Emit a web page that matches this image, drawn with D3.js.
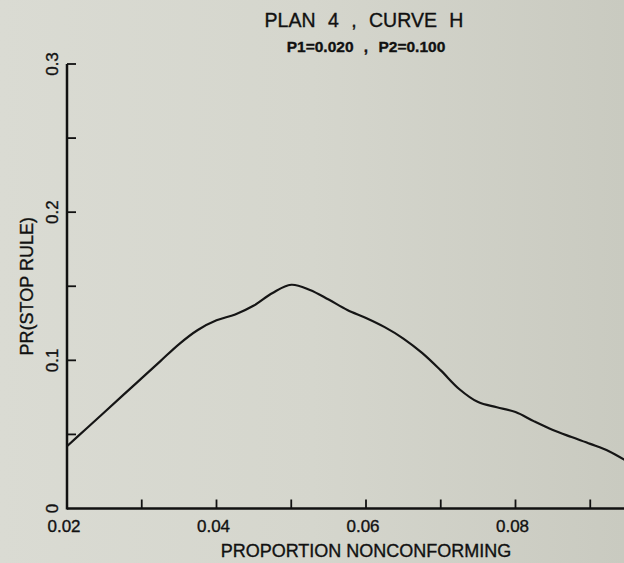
<!DOCTYPE html>
<html>
<head>
<meta charset="utf-8">
<script src="https://cdn.jsdelivr.net/npm/d3@7"></script>
<style>
  html, body { margin: 0; padding: 0; overflow: hidden; }
  body { width: 624px; height: 563px; }
  text { font-family: "Liberation Sans", Arial, sans-serif; fill: #111; stroke: #111; stroke-width: 0.35px; }
</style>
</head>
<body>
<div id="chart"></div>
<script>
// OC-type curve: PR(STOP RULE) vs proportion nonconforming

var titleText = "PLAN 4 , CURVE H";
var subtitleText = "P1=0.020 , P2=0.100";
var xLabel = "PROPORTION NONCONFORMING";
var yLabel = "PR(STOP RULE)";

var xTicks = [0.02, 0.03, 0.04, 0.05, 0.06, 0.07, 0.08, 0.09];
var xTickLabels = [0.02, 0.04, 0.06, 0.08];
var yTicks = [0, 0.05, 0.1, 0.15, 0.2, 0.25, 0.3];
var yTickLabels = [0, 0.1, 0.2, 0.3];

var pValues = [0.02, 0.0225, 0.025, 0.0275, 0.03, 0.0325, 0.035, 0.0375, 0.04, 0.0425,
               0.045, 0.0475, 0.05, 0.0525, 0.055, 0.0575, 0.06, 0.0625, 0.065, 0.0675,
               0.07, 0.0725, 0.075, 0.0775, 0.08, 0.0825, 0.085, 0.0875, 0.09, 0.0925, 0.095];
var prStop = [0.042, 0.0535, 0.065, 0.0765, 0.088, 0.0995, 0.111, 0.1205, 0.127, 0.131,
              0.137, 0.1455, 0.151, 0.1475, 0.141, 0.134, 0.1286, 0.1224, 0.1147, 0.105,
              0.0932, 0.0805, 0.0718, 0.0683, 0.0651, 0.0588, 0.053, 0.0482, 0.0436, 0.0387, 0.0316];

var svgWidth = 624;
var svgHeight = 563;

var svg = d3.select("#chart")
    .append("svg")
        .attr("width", svgWidth)
        .attr("height", svgHeight);

// scanned-paper background
var grad = svg.append("defs").append("linearGradient")
    .attr("id", "paper")
    .attr("x1", "0").attr("y1", "0")
    .attr("x2", "1").attr("y2", "0");
grad.append("stop").attr("offset", "0").attr("stop-color", "#dadbd3");
grad.append("stop").attr("offset", "0.5").attr("stop-color", "#d5d6cd");
grad.append("stop").attr("offset", "1").attr("stop-color", "#c9cac0");

svg.append("rect")
    .attr("width", svgWidth)
    .attr("height", svgHeight)
    .attr("fill", "url(#paper)");

var x = d3.scaleLinear()
    .domain([0.02, 0.1])
    .range([67, 665]);

var y = d3.scaleLinear()
    .domain([0, 0.3])
    .range([508.5, 64]);

// axes lines
svg.append("line")
    .attr("x1", x(0.02)).attr("x2", svgWidth)
    .attr("y1", y(0)).attr("y2", y(0))
    .attr("stroke", "#111").attr("stroke-width", 2.5);
svg.append("line")
    .attr("x1", x(0.02)).attr("x2", x(0.02))
    .attr("y1", y(0) + 1).attr("y2", y(0.3))
    .attr("stroke", "#111").attr("stroke-width", 2.5);

// ticks point inward
svg.selectAll("xtick")
    .data(xTicks.slice(1))
    .enter().append("line")
        .attr("x1", function(d) { return x(d); })
        .attr("x2", function(d) { return x(d); })
        .attr("y1", y(0))
        .attr("y2", y(0) - 9)
        .attr("stroke", "#111")
        .attr("stroke-width", 1.8);

svg.selectAll("ytick")
    .data(yTicks.slice(1))
    .enter().append("line")
        .attr("x1", x(0.02))
        .attr("x2", x(0.02) + 9)
        .attr("y1", function(d) { return y(d); })
        .attr("y2", function(d) { return y(d); })
        .attr("stroke", "#111")
        .attr("stroke-width", 1.8);

// tick labels
svg.selectAll("xlab")
    .data(xTickLabels)
    .enter().append("text")
        .attr("x", function(d) { return x(d) - 3; })
        .attr("y", 532)
        .attr("text-anchor", "middle")
        .style("font-size", "17px")
        .text(function(d) { return d3.format(".2f")(d); });

svg.selectAll("ylab")
    .data(yTickLabels)
    .enter().append("text")
        .attr("transform", function(d) { return "translate(58," + y(d) + ")rotate(-90)"; })
        .attr("text-anchor", "middle")
        .style("font-size", "17px")
        .text(function(d) { return d === 0 ? "0" : d3.format(".1f")(d); });

// axis titles
svg.append("text")
    .attr("x", x(0.06))
    .attr("y", 557)
    .attr("text-anchor", "middle")
    .style("font-size", "18px")
    .text(xLabel);

svg.append("text")
    .attr("transform", "translate(33," + y(0.15) + ")rotate(-90)")
    .attr("text-anchor", "middle")
    .style("font-size", "18px")
    .text(yLabel);

// titles
svg.append("text")
    .attr("x", 364)
    .attr("y", 27)
    .attr("text-anchor", "middle")
    .style("font-size", "19.5px")
    .style("word-spacing", "7px")
    .text(titleText);

svg.append("text")
    .attr("x", 366)
    .attr("y", 52)
    .attr("text-anchor", "middle")
    .style("font-size", "15.5px")
    .style("font-weight", "bold")
    .style("word-spacing", "6px")
    .text(subtitleText);

// the curve
var line = d3.line()
    .x(function(d, i) { return x(pValues[i]); })
    .y(function(d) { return y(d); })
    .curve(d3.curveCatmullRom.alpha(0.5));

svg.append("path")
    .datum(prStop)
    .attr("d", line)
    .attr("fill", "none")
    .attr("stroke", "#151515")
    .attr("stroke-width", 2.2);
</script>
</body>
</html>
